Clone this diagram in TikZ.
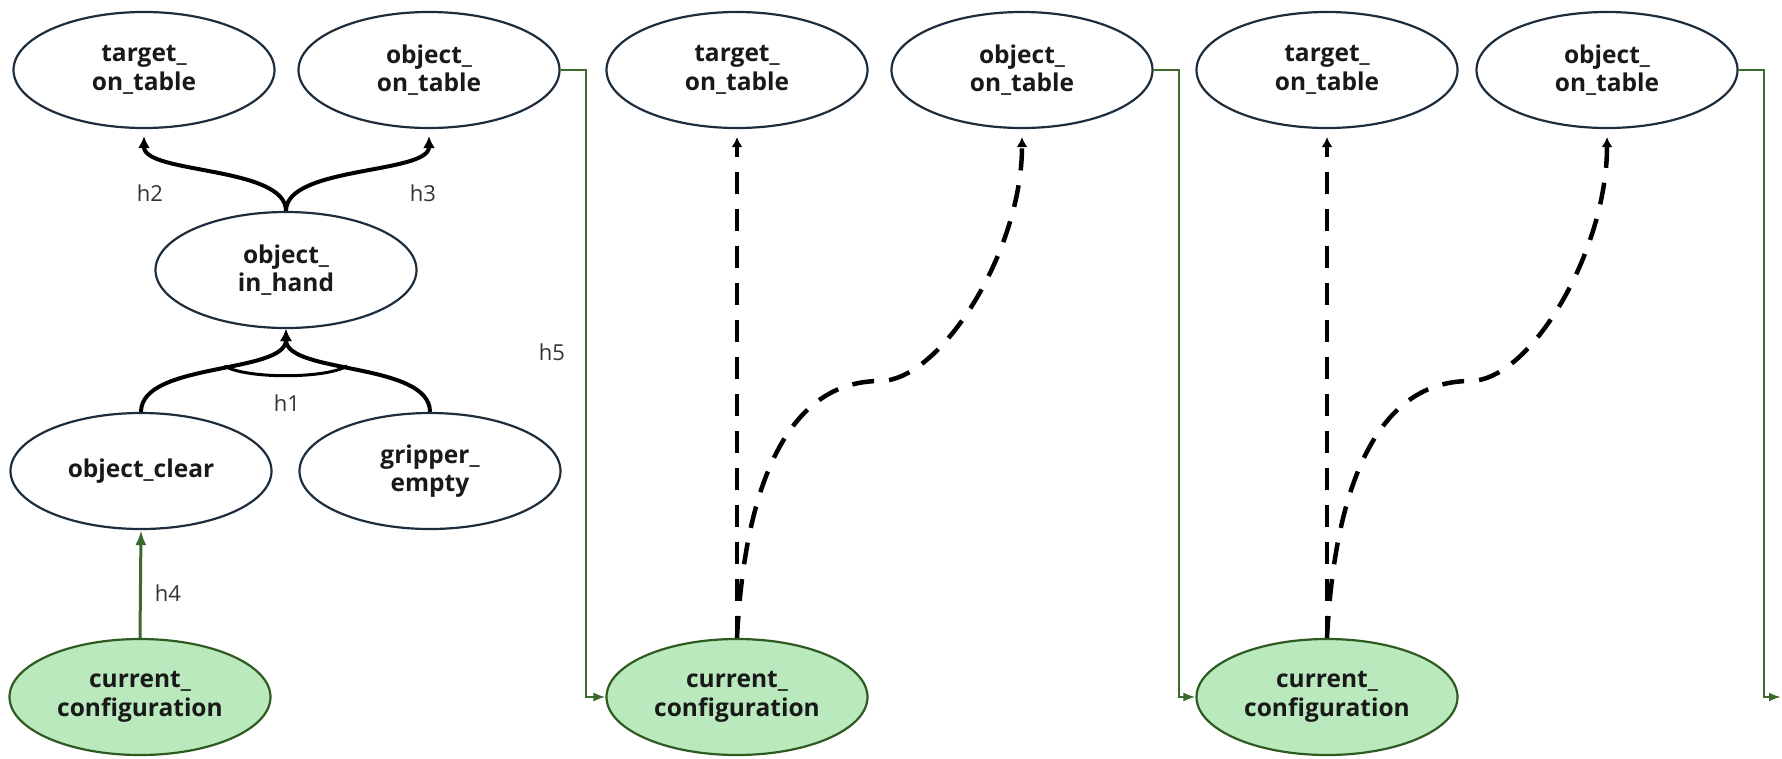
\documentclass[tikz,border=0pt]{standalone}
\usepackage{fontspec}
\setmainfont{Open Sans}
\usetikzlibrary{shapes.geometric,arrows.meta,calc}
\definecolor{edgeink}{HTML}{1E2D3B}
\definecolor{cfgfill}{HTML}{B9E9BD}
\definecolor{cfgline}{HTML}{2F5A22}
\definecolor{flowgreen}{HTML}{3B6A2C}

\begin{document}
\begin{tikzpicture}[x=1pt,y=-1pt,
  cond/.style={ellipse,draw=edgeink,line width=2.2pt,minimum width=261pt,
    minimum height=116pt,inner sep=0pt,align=center,
    font=\fontsize{24.5}{28.5}\selectfont\bfseries,text=black!90},
  cur/.style={cond,draw=cfgline,fill=cfgfill},
  lbl/.style={font=\fontsize{22}{26}\selectfont,text=black!80},
  hyper/.style={line width=4pt,-{Latex[length=12pt,width=12pt]}},
  andarc/.style={line width=3pt},
  plan/.style={line width=4.5pt,dash pattern=on 22pt off 15pt,
    -{Latex[length=10pt,width=11pt]},shorten >=8pt},
  flow/.style={draw=flowgreen,line width=2.2pt,-{Latex[length=12pt,width=9pt]}},
  cue/.style={flow,line width=3pt,-{Latex[length=15pt,width=11pt]}},
]
\useasboundingbox (0,0) rectangle (1782,758);

% first stage: full hierarchy below the goal conditions
\node[cond] (t1)  at (144,70)  {target\_\\on\_table};
\node[cond] (o1)  at (429,70)  {object\_\\on\_table};
\node[cond] (inh) at (286,270) {object\_\\in\_hand};
\node[cond] (oc)  at (141,471) {object\_clear};
\node[cond] (ge)  at (430,471) {gripper\_\\empty};
\node[cur]  (c1)  at (140,697) {current\_\\configuration};

% second and third stages
\node[cond] (t2) at (737,70)  {target\_\\on\_table};
\node[cond] (o2) at (1022,70) {object\_\\on\_table};
\node[cur]  (c2) at (737,697) {current\_\\configuration};

\node[cond] (t3) at (1327,70) {target\_\\on\_table};
\node[cond] (o3) at (1607,70) {object\_\\on\_table};
\node[cur]  (c3) at (1327,697) {current\_\\configuration};

% hyperedges of the first stage
\draw[hyper,shorten >=7pt] (inh.north) .. controls +(0,-45) and +(0,45) .. (t1.south);
\draw[hyper,shorten >=7pt] (inh.north) .. controls +(0,-45) and +(0,45) .. (o1.south);
\draw[hyper] (oc.north) .. controls +(0,-50) and +(0,45) .. (inh.south)
  coordinate[pos=0.55] (andL);
\draw[hyper] (ge.north) .. controls +(0,-50) and +(0,45) .. (inh.south)
  coordinate[pos=0.55] (andR);
\draw[andarc] (andL) .. controls +(22,13) and +(-22,13) .. (andR);
\draw[cue] (c1.north) -- (oc.south);

\node[lbl] (lh1) at (287,403) {h1};
\node[lbl] (lh2) at (150,193) {h2};
\node[lbl] (lh3) at (423,193) {h3};
\node[lbl] (lh4) at (168,593) {h4};
\node[lbl] (lh5) at (552,352) {h5};

% hand-over from one stage to the next
\coordinate (exitR) at (1781,697);
\draw[flow] (o1.east) -- ++(25,0) |- (c2.west);
\draw[flow] (o2.east) -- ++(25,0) |- (c3.west);
\draw[flow] (o3.east) -- ++(25,0) |- (exitR);

% planned links from the configuration to the goals
\coordinate (bend2) at (880,381);
\coordinate (bend3) at (1470,381);
\draw[plan] (c2.north) -- (t2.south);
\draw[plan] (c2.north) .. controls +(8,-158) and +(-90,0) .. (bend2)
  .. controls +(60,0) and +(0,123) .. (o2.south);
\draw[plan] (c3.north) -- (t3.south);
\draw[plan] (c3.north) .. controls +(8,-158) and +(-90,0) .. (bend3)
  .. controls +(60,0) and +(0,123) .. (o3.south);
\end{tikzpicture}
\end{document}
